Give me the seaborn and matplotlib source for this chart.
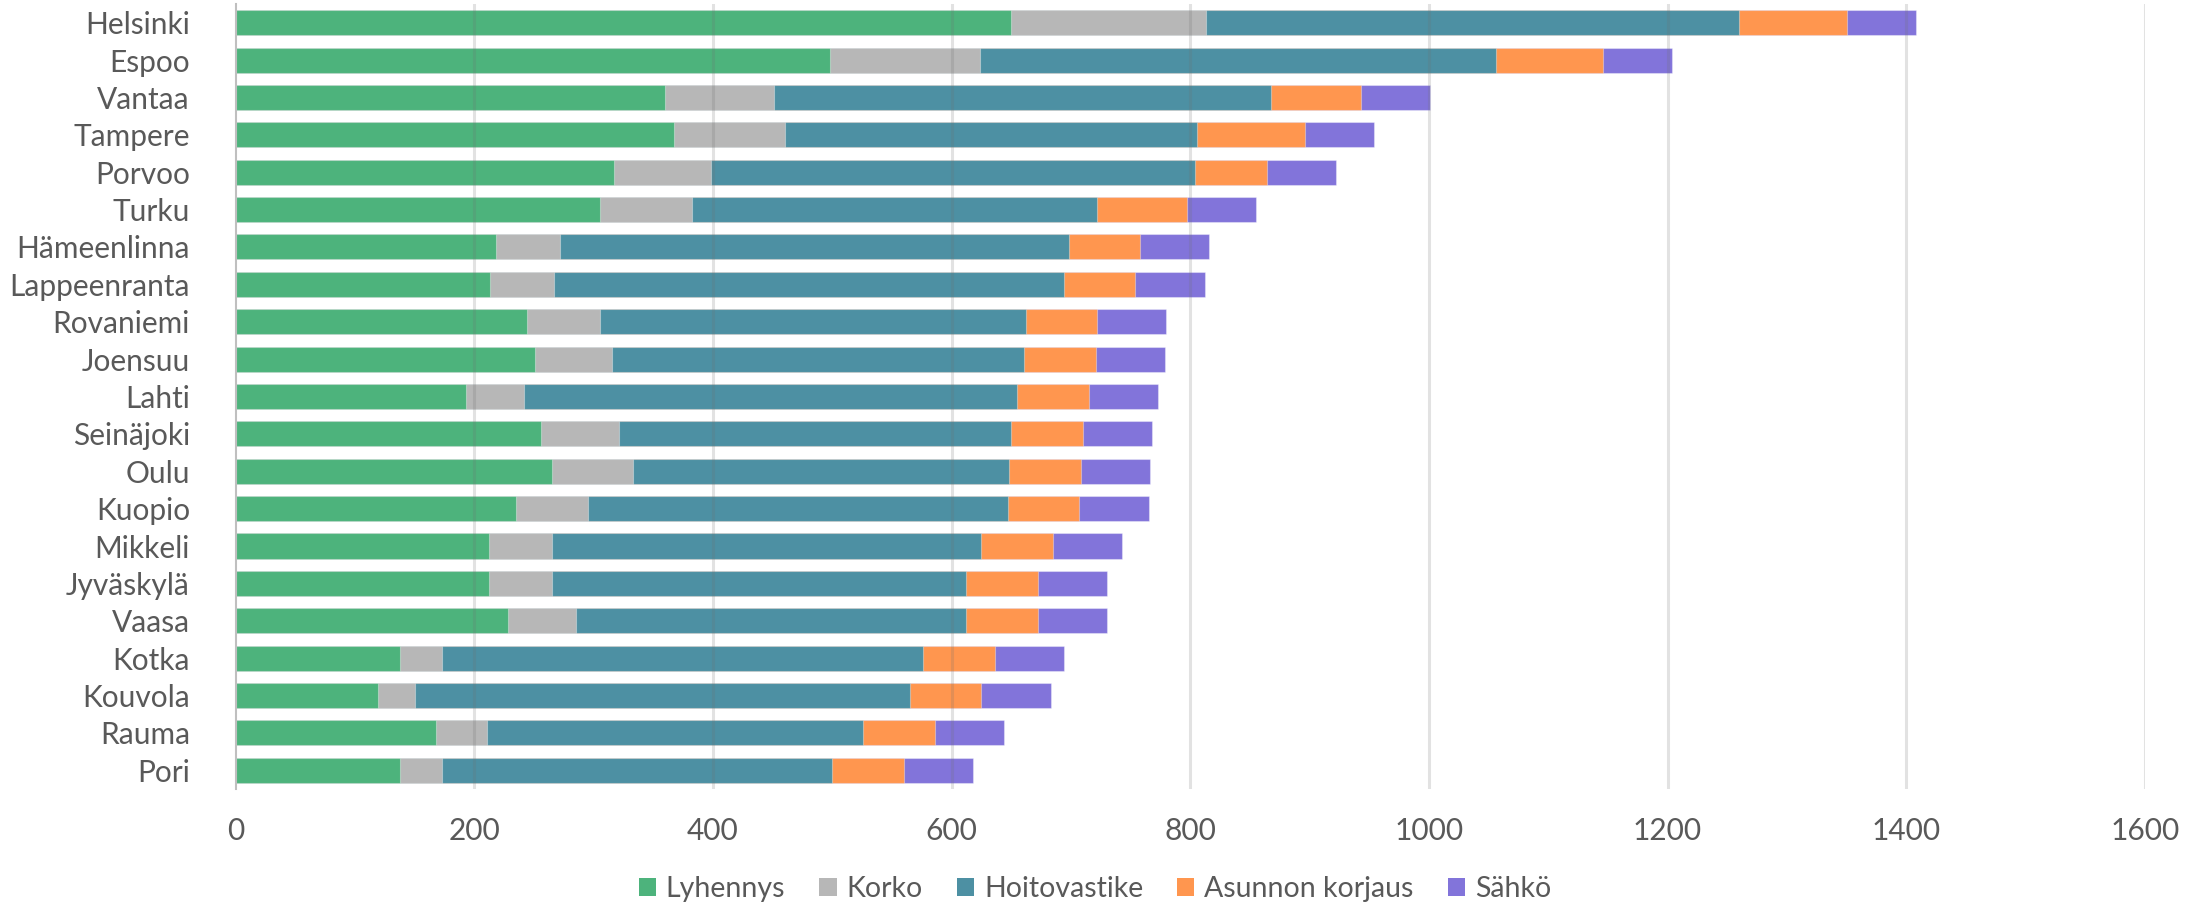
import numpy as np
import pandas as pd
import matplotlib
matplotlib.use("Agg")
import matplotlib.pyplot as plt
from matplotlib.patches import Patch
import seaborn as sns

# Monthly housing costs per city (€), stacked by cost component
cities = ["Helsinki", "Espoo", "Vantaa", "Tampere", "Porvoo", "Turku",
          "Hämeenlinna", "Lappeenranta", "Rovaniemi", "Joensuu", "Lahti",
          "Seinäjoki", "Oulu", "Kuopio", "Mikkeli", "Jyväskylä", "Vaasa",
          "Kotka", "Kouvola", "Rauma", "Pori"]
lyhennys = [650, 498, 360, 367, 317, 305, 218, 213, 244, 251, 193,
            256, 265, 235, 212, 212, 228, 138, 119, 168, 138]
korko = [163, 126, 91, 93, 81, 77, 54, 54, 61, 64, 49,
         65, 68, 60, 53, 53, 57, 35, 31, 43, 35]
hoitovastike = [447, 432, 417, 346, 406, 340, 426, 427, 357, 346, 413,
                329, 315, 352, 360, 347, 327, 403, 415, 315, 327]
korjaus = [90, 90, 75, 90, 60, 75, 60, 60, 60, 60, 60,
           60, 60, 60, 60, 60, 60, 60, 60, 60, 60]
sahko = [58, 58, 58, 58, 58, 58, 58, 58, 58, 58, 58,
         58, 58, 58, 58, 58, 58, 58, 58, 58, 58]

series = ["Lyhennys", "Korko", "Hoitovastike", "Asunnon korjaus", "Sähkö"]
colors = ["#4DB37C", "#B7B7B7", "#4D90A3", "#FF964F", "#8274DA"]
xticks = [0, 200, 400, 600, 800, 1000, 1200, 1400, 1600]

df = pd.DataFrame({"Kaupunki": cities, "Lyhennys": lyhennys, "Korko": korko,
                   "Hoitovastike": hoitovastike, "Asunnon korjaus": korjaus,
                   "Sähkö": sahko})
cum = df[series].cumsum(axis=1)
cum["Kaupunki"] = df["Kaupunki"]

sns.set_theme(style="white")
plt.rcParams["font.family"] = ["Lato", "DejaVu Sans"]
text_color = "#595959"

fig = plt.figure(figsize=(22.01, 9.07), dpi=100)
ax = fig.add_axes([0.1071, 0.1301, 0.8674, 0.8655])

# stacked bars: draw cumulative totals from the outermost segment inwards
for name, color in reversed(list(zip(series, colors))):
    sns.barplot(data=cum, x=name, y="Kaupunki", orient="h", color=color,
                width=0.67, saturation=1, edgecolor=(1, 1, 1, 0.35),
                linewidth=0.8, ax=ax, order=cities)

ax.set_xlim(0, 1600)
ax.set_ylim(20.5, -0.5)
ax.set_xticks(xticks)
ax.set_xticklabels([str(t) for t in xticks])
ax.set_xlabel("")
ax.set_ylabel("")

# faint vertical gridlines drawn over the bars
for t in xticks[1:]:
    ax.axvline(t, color="#707070", alpha=0.2, linewidth=2.2, zorder=5)

for side in ["top", "right", "bottom"]:
    ax.spines[side].set_visible(False)
ax.spines["left"].set_color("#bfbfbf")
ax.spines["left"].set_linewidth(1.5)
ax.spines["left"].set_zorder(6)

ax.tick_params(axis="both", length=0, colors=text_color)
ax.tick_params(axis="y", labelsize=21.5, pad=33)
ax.tick_params(axis="x", labelsize=21.5, pad=20)

handles = [Patch(facecolor=c, edgecolor="none", label=s) for s, c in zip(series, colors)]
leg = fig.legend(handles=handles, loc="center", bbox_to_anchor=(0.4975, 0.0198),
                 ncol=5, frameon=False, fontsize=20.5, handlelength=0.6,
                 handleheight=0.6, handletextpad=0.35, columnspacing=1.2)
for t in leg.get_texts():
    t.set_color(text_color)

fig.savefig("out.png", dpi=100, facecolor="white")
